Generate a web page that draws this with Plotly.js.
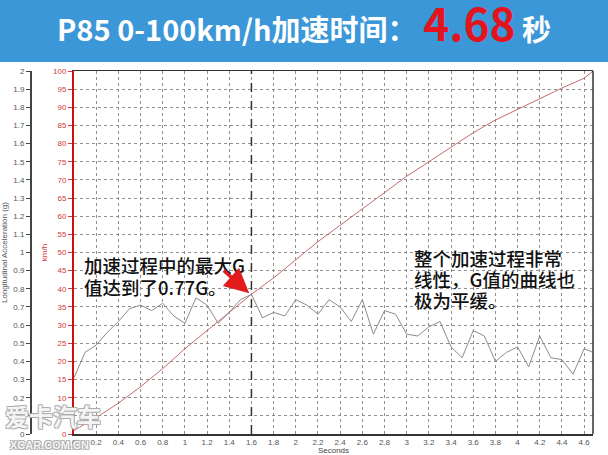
<!DOCTYPE html>
<html>
<head>
<meta charset="utf-8">
<script src="https://cdn.plot.ly/plotly-3.0.1.min.js"></script>
<style>html,body{margin:0;padding:0;background:#fff;}#chart{width:608px;height:455px;}</style>
</head>
<body>
<div id="chart"></div>
<script>
// Acceleration (g) samples
const gTime = [0,0.1,0.2,0.3,0.4,0.5,0.6,0.7,0.8,0.9,1.0,1.1,1.2,1.3,1.4,1.5,1.6,1.7,1.8,1.9,2.0,2.1,2.2,2.3,2.4,2.5,2.6,2.7,2.8,2.9,3.0,3.1,3.2,3.3,3.4,3.5,3.6,3.7,3.8,3.9,4.0,4.1,4.2,4.3,4.4,4.5,4.6,4.68];
const gForce = [0.31,0.45,0.49,0.56,0.62,0.69,0.71,0.68,0.72,0.65,0.61,0.75,0.71,0.61,0.67,0.74,0.77,0.64,0.67,0.65,0.74,0.71,0.66,0.74,0.70,0.62,0.74,0.55,0.68,0.66,0.55,0.54,0.59,0.62,0.48,0.42,0.57,0.54,0.40,0.45,0.48,0.37,0.54,0.42,0.41,0.33,0.47,0.45];
// Speed (km/h) samples
const speedTime = [0,0.2,0.4,0.6,0.8,1.0,1.2,1.4,1.6,1.8,2.0,2.2,2.4,2.6,2.8,3.0,3.2,3.4,3.6,3.8,4.0,4.2,4.4,4.6,4.68];
const speed = [1,4.5,8.5,13,18,23.5,28.5,33.5,38.5,43,48,53,57.5,62,66.5,71,75,79,83,86.5,89.5,92.5,95.3,98,100];
// Tick values
const xTicks = [0,0.2,0.4,0.6,0.8,1,1.2,1.4,1.6,1.8,2,2.2,2.4,2.6,2.8,3,3.2,3.4,3.6,3.8,4,4.2,4.4,4.6];
const gTicks = [0,0.1,0.2,0.3,0.4,0.5,0.6,0.7,0.8,0.9,1,1.1,1.2,1.3,1.4,1.5,1.6,1.7,1.8,1.9,2];
const maxGTime = 1.6;
const maxG = 0.77;

const latin = 'Liberation Sans, Arial, sans-serif';
const tickFont = {family: latin, size: 8, color: '#555'};
const redFont = {family: latin, size: 8, color: '#D03a3a'};
const cjk = 'Noto Sans CJK SC, sans-serif';
const wmShadow = '-1px -1px 0 #aaa, 1px -1px 0 #aaa, -1px 1px 0 #aaa, 1px 1px 0 #aaa';

const traces = [
  {x: speedTime, y: speed, type: 'scatter', mode: 'lines', yaxis: 'y',
   line: {color: '#C76A6A', width: 1}, hoverinfo: 'skip'},
  {x: gTime, y: gForce, type: 'scatter', mode: 'lines', yaxis: 'y2',
   line: {color: '#8c8c8c', width: 1}, hoverinfo: 'skip'}
];

const noteFont = {family: cjk, size: 18.5, color: '#111', weight: 500};
const layout = {
  width: 608, height: 455,
  margin: {l: 31, r: 15, t: 71, b: 21},
  paper_bgcolor: '#fff', plot_bgcolor: '#fff',
  showlegend: false,
  title: {
    text: '<b>P85 0-100km/h加速时间： <span style="color:#E3141E;font-size:44px">4.68</span> 秒</b>',
    font: {family: cjk, size: 29, color: '#fff'},
    x: 0.5, xref: 'container', xanchor: 'center',
    y: 1 - 31/455, yref: 'container', yanchor: 'middle'
  },
  xaxis: {
    domain: [43/562, 1], range: [0, 4.68],
    tickvals: xTicks, tickfont: tickFont, ticks: '', ticklen: 0,
    showgrid: true, gridcolor: '#8f8f8f', griddash: 'dot', gridwidth: 1,
    showline: true, mirror: true, linecolor: '#333', linewidth: 1.5,
    zeroline: false,
    title: {text: 'Seconds', font: {family: latin, size: 8, color: '#444'}, standoff: 1},
    automargin: false
  },
  yaxis: {
    range: [0, 100], dtick: 5, tickfont: redFont,
    ticks: 'outside', ticklen: 4, tickcolor: '#D03a3a',
    showgrid: true, gridcolor: '#8f8f8f', griddash: 'dot', gridwidth: 1,
    showline: true, linecolor: '#D01010', linewidth: 2, zeroline: false,
    title: {text: 'km/h', font: {family: latin, size: 8, color: '#D03a3a'}, standoff: 4},
    automargin: false
  },
  yaxis2: {
    range: [0, 2], tickvals: gTicks, tickfont: tickFont,
    overlaying: 'y', side: 'left', anchor: 'free', position: 0,
    ticks: 'outside', ticklen: 4, tickcolor: '#444',
    showgrid: false, showline: true, linecolor: '#444', linewidth: 2, zeroline: false,
    title: {text: 'Longitudinal Acceleration (g)', font: {family: latin, size: 8, color: '#555'}, standoff: 4},
    automargin: false
  },
  shapes: [
    {type: 'rect', xref: 'paper', yref: 'paper', x0: -31/562, x1: 1 + 15/562, y0: 1 + 9/363, y1: 1 + 71/363,
     fillcolor: '#3B97D8', line: {width: 0}, layer: 'below'},
    {type: 'line', xref: 'x', yref: 'y domain', x0: maxGTime, x1: maxGTime, y0: 0, y1: 1,
     line: {color: '#333', width: 1.5, dash: 'dash'}},
    {type: 'line', xref: 'x domain', yref: 'y domain', x0: 1, x1: 1, y0: 0, y1: 1,
     line: {color: '#333', width: 1.5}}
  ],
  annotations: [
    {text: '加速过程中的最大G', x: 0.07, y: 46.6, xref: 'x', yref: 'y', xanchor: 'left', yanchor: 'middle', showarrow: false, font: noteFont},
    {text: '值达到了0.77G。', x: 0.07, y: 40.6, xref: 'x', yref: 'y', xanchor: 'left', yanchor: 'middle', showarrow: false, font: noteFont},
    {text: '整个加速过程非常', x: 3.05, y: 48.5, xref: 'x', yref: 'y', xanchor: 'left', yanchor: 'middle', showarrow: false, font: noteFont},
    {text: '线性，G值的曲线也', x: 3.05, y: 42.7, xref: 'x', yref: 'y', xanchor: 'left', yanchor: 'middle', showarrow: false, font: noteFont},
    {text: '极为平缓。', x: 3.05, y: 36.9, xref: 'x', yref: 'y', xanchor: 'left', yanchor: 'middle', showarrow: false, font: noteFont},
    {text: '', x: maxGTime - 0.02, y: maxG * 50 + 0.3, xref: 'x', yref: 'y', showarrow: true,
     ax: -27, ay: -24, arrowcolor: '#E21B1B', arrowwidth: 3.5, arrowhead: 2, arrowsize: 1.4, standoff: 0},
    {text: '<b>爱卡汽车</b>', x: -28/562, y: -1/363, xref: 'paper', yref: 'paper', xanchor: 'left', yanchor: 'bottom', showarrow: false,
     font: {family: cjk, size: 24, color: 'rgba(255,255,255,0.9)', shadow: wmShadow}},
    {text: '<b>XCAR.COM.CN</b>', x: -23/562, y: -11/363, xref: 'paper', yref: 'paper', xanchor: 'left', yanchor: 'middle', showarrow: false,
     font: {family: latin, size: 11, color: 'rgba(255,255,255,0.9)', shadow: wmShadow}}
  ]
};

Plotly.newPlot('chart', traces, layout, {staticPlot: true, displayModeBar: false});
</script>
</body>
</html>
